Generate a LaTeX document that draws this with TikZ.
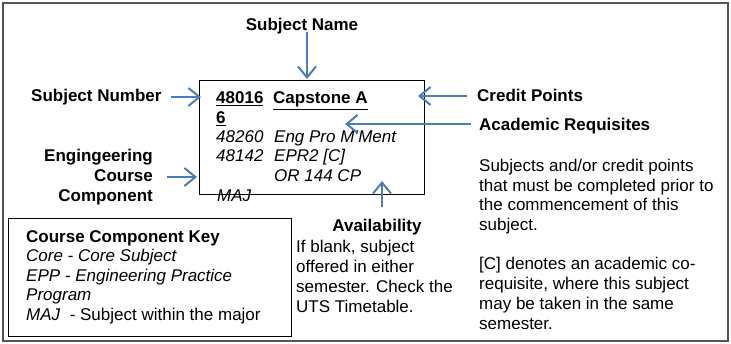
\documentclass[tikz,border=0pt]{standalone}
\usepackage{fontspec}
\setmainfont{Liberation Sans}
\usetikzlibrary{arrows.meta}
\definecolor{arrblue}{RGB}{74,126,187}
\definecolor{framegray}{RGB}{85,85,85}
\begin{document}
\begin{tikzpicture}[x=1pt,y=-1pt,
  txt/.style={inner sep=0pt, anchor=base west, font=\fontsize{17}{19.7}\selectfont},
  hd/.style={txt, font=\fontsize{17}{19.7}\selectfont\bfseries},
  it/.style={txt, font=\fontsize{17}{19.7}\selectfont\itshape},
  arr/.style={draw=arrblue, line width=2pt, -{Straight Barb[length=11pt,width=18pt,line width=2pt]}},
  boxed/.style={draw=black, line width=1.2pt, inner sep=0pt, anchor=north west}]
\useasboundingbox (0,0) rectangle (731,344);
\draw[framegray, line width=1.5pt] (3,3) rectangle (728,341);

% main subject box
\node[boxed, minimum width=225pt, minimum height=114pt] (box) at (199,80) {};
\node[hd] (n1) at (216,104) {\underline{48016}};
\node[hd] (n2) at (273,104) {\underline{Capstone A}};
\node[hd] (n3) at (216,124) {\underline{6}};
\node[it] (r1a) at (216,143) {48260};
\node[it] (r1b) at (274,143) {Eng Pro M'Ment};
\node[it] (r2a) at (216,162) {48142};
\node[it] (r2b) at (274,162) {EPR2 [C]};
\node[it] (r3) at (274,182) {OR 144 CP};
\node[it] (maj) at (217,202) {MAJ};

% labels
\node[hd, anchor=base] (sname) at (302,30.5) {Subject Name};
\node[hd] (snum) at (31,102) {Subject Number};
\node[hd] (cp) at (477,101.7) {Credit Points};
\node[hd] (ar) at (479,131) {Academic Requisites};
\node[hd, anchor=base east] (e1) at (153,162) {Engingeering};
\node[hd, anchor=base east] (e2) at (153,182) {Course};
\node[hd, anchor=base east] (e3) at (153,202) {Component};

% requisites description
\node[txt] (d1) at (479,171.5) {Subjects and/or credit points};
\node[txt] (d2) at (479,191.2) {that must be completed prior to};
\node[txt] (d3) at (479,210.9) {the commencement of this};
\node[txt] (d4) at (479,230.6) {subject.};
\node[txt] (d5) at (479,270.0) {[C] denotes an academic co-};
\node[txt] (d6) at (479,289.7) {requisite, where this subject};
\node[txt] (d7) at (479,309.4) {may be taken in the same};
\node[txt] (d8) at (479,329.1) {semester.};

% availability
\node[hd, anchor=base] (av) at (377,232) {Availability};
\node[txt] (a1) at (296,253) {If blank, subject};
\node[txt] (a2) at (296,272.7) {offered in either};
\node[txt] (a3) at (296,292.4) {semester. Check the};
\node[txt] (a4) at (296,312.1) {UTS Timetable.};

% key box
\node[boxed, minimum width=283pt, minimum height=118pt] (key) at (8,218) {};
\node[hd] (k1) at (26,242.7) {Course Component Key};
\node[it] (k2) at (26,262) {Core - Core Subject};
\node[it] (k3) at (26,281.5) {EPP - Engineering Practice};
\node[it] (k4) at (26,301) {Program};
\node[txt] (k5) at (26,320.5) {\textit{MAJ}\ \ - Subject within the major};

% arrow end points
\coordinate (snT) at (307,32);   \coordinate (snH) at (307,79);
\coordinate (nuT) at (171,97);   \coordinate (nuH) at (201,97);
\coordinate (cpT) at (467,96);   \coordinate (cpH) at (418,96);
\coordinate (arT) at (471,124);  \coordinate (arH) at (345,124);
\coordinate (enT) at (167,177);  \coordinate (enH) at (197,177);
\coordinate (avT) at (382,207);  \coordinate (avH) at (382,181);

\draw[arr] (snT) -- (snH);
\draw[arr] (nuT) -- (nuH);
\draw[arr] (cpT) -- (cpH);
\draw[arr] (arT) -- (arH);
\draw[arr] (enT) -- (enH);
\draw[arr] (avT) -- (avH);
\end{tikzpicture}
\end{document}
